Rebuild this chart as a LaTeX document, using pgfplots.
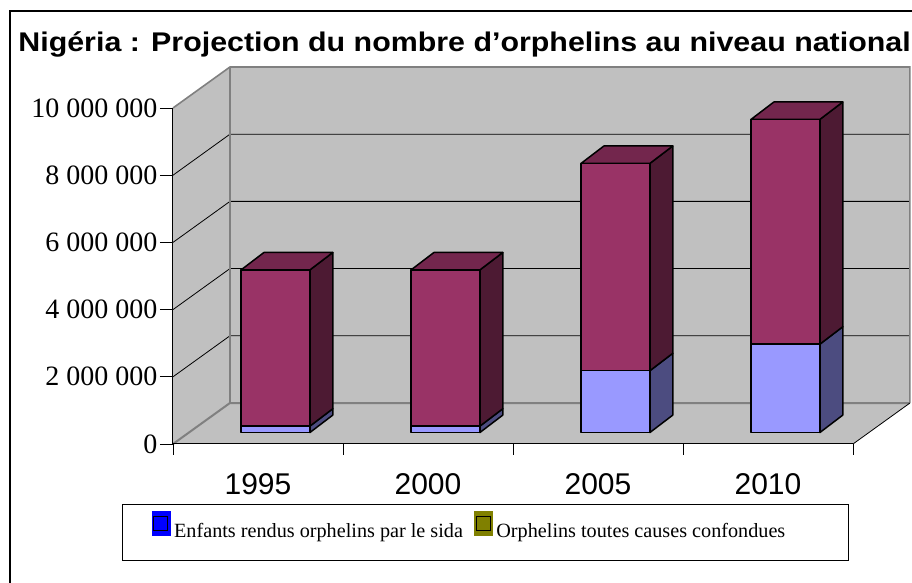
\documentclass[border=0pt]{standalone}
\usepackage{fontspec}
\setmainfont{Liberation Serif}
\newfontfamily\arial{Liberation Sans}
\newfontfamily\arialwide{Liberation Sans}[FakeStretch=1.125]
\usepackage{pgfplots}
\usepackage{pgfplotstable}
\pgfplotsset{compat=1.18}

\definecolor{wallgray}{HTML}{C0C0C0}
\definecolor{edgegray}{HTML}{808080}
\definecolor{bluefront}{HTML}{9999FF}
\definecolor{blueside}{HTML}{4C4C80}
\definecolor{purpfront}{HTML}{993366}
\definecolor{purpside}{HTML}{4D1A33}
\definecolor{purptop}{HTML}{73264D}
\definecolor{legblue}{HTML}{0000FF}
\definecolor{legolive}{HTML}{808000}

% values in millions of children
\pgfplotstableread{
annee sida autres
1995 0.19 4.65
2000 0.19 4.65
2005 1.84 6.17
2010 2.63 6.69
}\datatable

\def\dx{0.335}   % depth of the floor (x units)
\def\dy{1.22}    % depth of the floor (millions)
\def\bdx{0.135}  % depth of a bar
\def\bdy{0.52}
\def\bbase{0.34} % bars stand a little behind the front edge

\begin{document}
\begin{tikzpicture}
\begin{axis}[
  x=170pt, y=33.6pt,
  xmin=0, xmax=4, ymin=0, ymax=10,
  axis lines=left, axis line style={-, black, line width=1pt},
  axis on top,
  clip=false,
  tick align=outside,
  xtick={0.5,1.5,2.5,3.5},
  xticklabels={\mbox{1995},\mbox{2000},\mbox{2005},\mbox{2010}},
  major x tick style={draw=none},
  minor xtick={0,1,2,3,4},
  minor tick length=11pt,
  major tick length=13pt,
  tick style={black, line width=0.8pt},
  xticklabel style={font=\arial\fontsize{30}{30}\selectfont, yshift=-13pt},
  ytick={0,2,4,6,8,10},
  yticklabels={\mbox{0},\mbox{2 000 000},\mbox{4 000 000},\mbox{6 000 000},\mbox{8 000 000},\mbox{10 000 000}},
  yticklabel style={font=\fontsize{28}{28}\selectfont, xshift=1pt},
  legend columns=-1,
  legend style={draw=none, fill=none, at={(axis description cs:-0.036,-0.244)}, anchor=west,
    font=\fontsize{20.2}{20.2}\selectfont,
    /tikz/every odd column/.append style={column sep=2pt},
    /tikz/every even column/.append style={column sep=9pt}},
]
% --- walls and floor ---
\addplot[forget plot, fill=wallgray, draw=none] coordinates {(0,0) (\dx,\dy) (\dx,11.22) (0,10)} -- cycle;
\addplot[forget plot, fill=wallgray, draw=none] coordinates {(\dx,\dy) (4.335,\dy) (4.335,11.22) (\dx,11.22)} -- cycle;
\addplot[forget plot, fill=wallgray, draw=none] coordinates {(0,0) (4,0) (4.335,\dy) (\dx,\dy)} -- cycle;
% grid lines
\pgfplotsinvokeforeach{2,4,6,8}{
  \addplot[forget plot, black, line width=0.8pt] coordinates {(0,#1) (\dx,#1+1.22) (4.335,#1+1.22)};
}
% wall edges
\addplot[forget plot, edgegray, line width=2pt] coordinates {(0,0) (\dx,\dy) (4.335,\dy)};
\addplot[forget plot, edgegray, line width=2pt] coordinates {(\dx,\dy) (\dx,11.22)};
\addplot[forget plot, edgegray, line width=1.6pt] coordinates {(0,10) (\dx,11.22) (4.335,11.22) (4.335,\dy)};
\addplot[forget plot, black, line width=0.8pt] coordinates {(4,0) (4.335,\dy)};
% --- bars ---
\pgfplotsinvokeforeach{0,1,2,3}{
  \pgfplotstablegetelem{#1}{sida}\of\datatable \let\vs=\pgfplotsretval
  \pgfplotstablegetelem{#1}{autres}\of\datatable \let\va=\pgfplotsretval
  \pgfmathsetmacro\xl{#1+0.40}
  \pgfmathsetmacro\xr{#1+0.805}
  \pgfmathsetmacro\xlb{\xl+\bdx}
  \pgfmathsetmacro\xrb{\xr+\bdx}
  \pgfmathsetmacro\yb{\bbase}
  \pgfmathsetmacro\ybb{\bbase+\bdy}
  \pgfmathsetmacro\ys{\bbase+\vs}
  \pgfmathsetmacro\ysb{\ys+\bdy}
  \pgfmathsetmacro\yt{\ys+\va}
  \pgfmathsetmacro\ytb{\yt+\bdy}
  \addplot[forget plot, fill=blueside, draw=black, line width=1.5pt, line join=round] coordinates {(\xr,\yb) (\xrb,\ybb) (\xrb,\ysb) (\xr,\ys)} -- cycle;
  \addplot[forget plot, fill=purpside, draw=black, line width=1.5pt, line join=round] coordinates {(\xr,\ys) (\xrb,\ysb) (\xrb,\ytb) (\xr,\yt)} -- cycle;
  \addplot[forget plot, fill=purptop, draw=black, line width=1.5pt, line join=round] coordinates {(\xl,\yt) (\xr,\yt) (\xrb,\ytb) (\xlb,\ytb)} -- cycle;
  \addplot[forget plot, fill=bluefront, draw=black, line width=1.5pt, line join=round] coordinates {(\xl,\yb) (\xr,\yb) (\xr,\ys) (\xl,\ys)} -- cycle;
  \addplot[forget plot, fill=purpfront, draw=black, line width=1.5pt, line join=round] coordinates {(\xl,\ys) (\xr,\ys) (\xr,\yt) (\xl,\yt)} -- cycle;
}
% --- legend ---
\addlegendimage{legend image code/.code={
  \fill[legblue] (0pt,-5pt) rectangle (18pt,19pt);
  \draw[black, line width=1pt] (2pt,0pt) rectangle (16pt,14pt);}}
\addlegendentry{Enfants rendus orphelins par le sida}
\addlegendimage{legend image code/.code={
  \fill[legolive] (0pt,-5pt) rectangle (18pt,19pt);
  \draw[black, line width=1pt] (2pt,0pt) rectangle (16pt,14pt);}}
\addlegendentry{Orphelins toutes causes confondues}
% --- title, frames ---
\node[anchor=base, font=\arialwide\bfseries\fontsize{27}{27}\selectfont] at (axis cs:1.715,11.667)
  {Nigéria : Projection du nombre d’orphelins au niveau national};
\draw[black, line width=1pt] (axis cs:-0.2941,-1.786) rectangle (axis cs:3.9706,-3.482);
\draw[black, line width=1.5pt] (axis cs:-0.9588,12.887) rectangle (axis cs:4.359,-4.256);
\coordinate (bbA) at (axis cs:-1.01765,13.214);
\coordinate (bbB) at (axis cs:4.3471,-4.137);
\end{axis}
\pgfresetboundingbox
\path[use as bounding box] (bbA) rectangle (bbB);
\end{tikzpicture}
\end{document}
